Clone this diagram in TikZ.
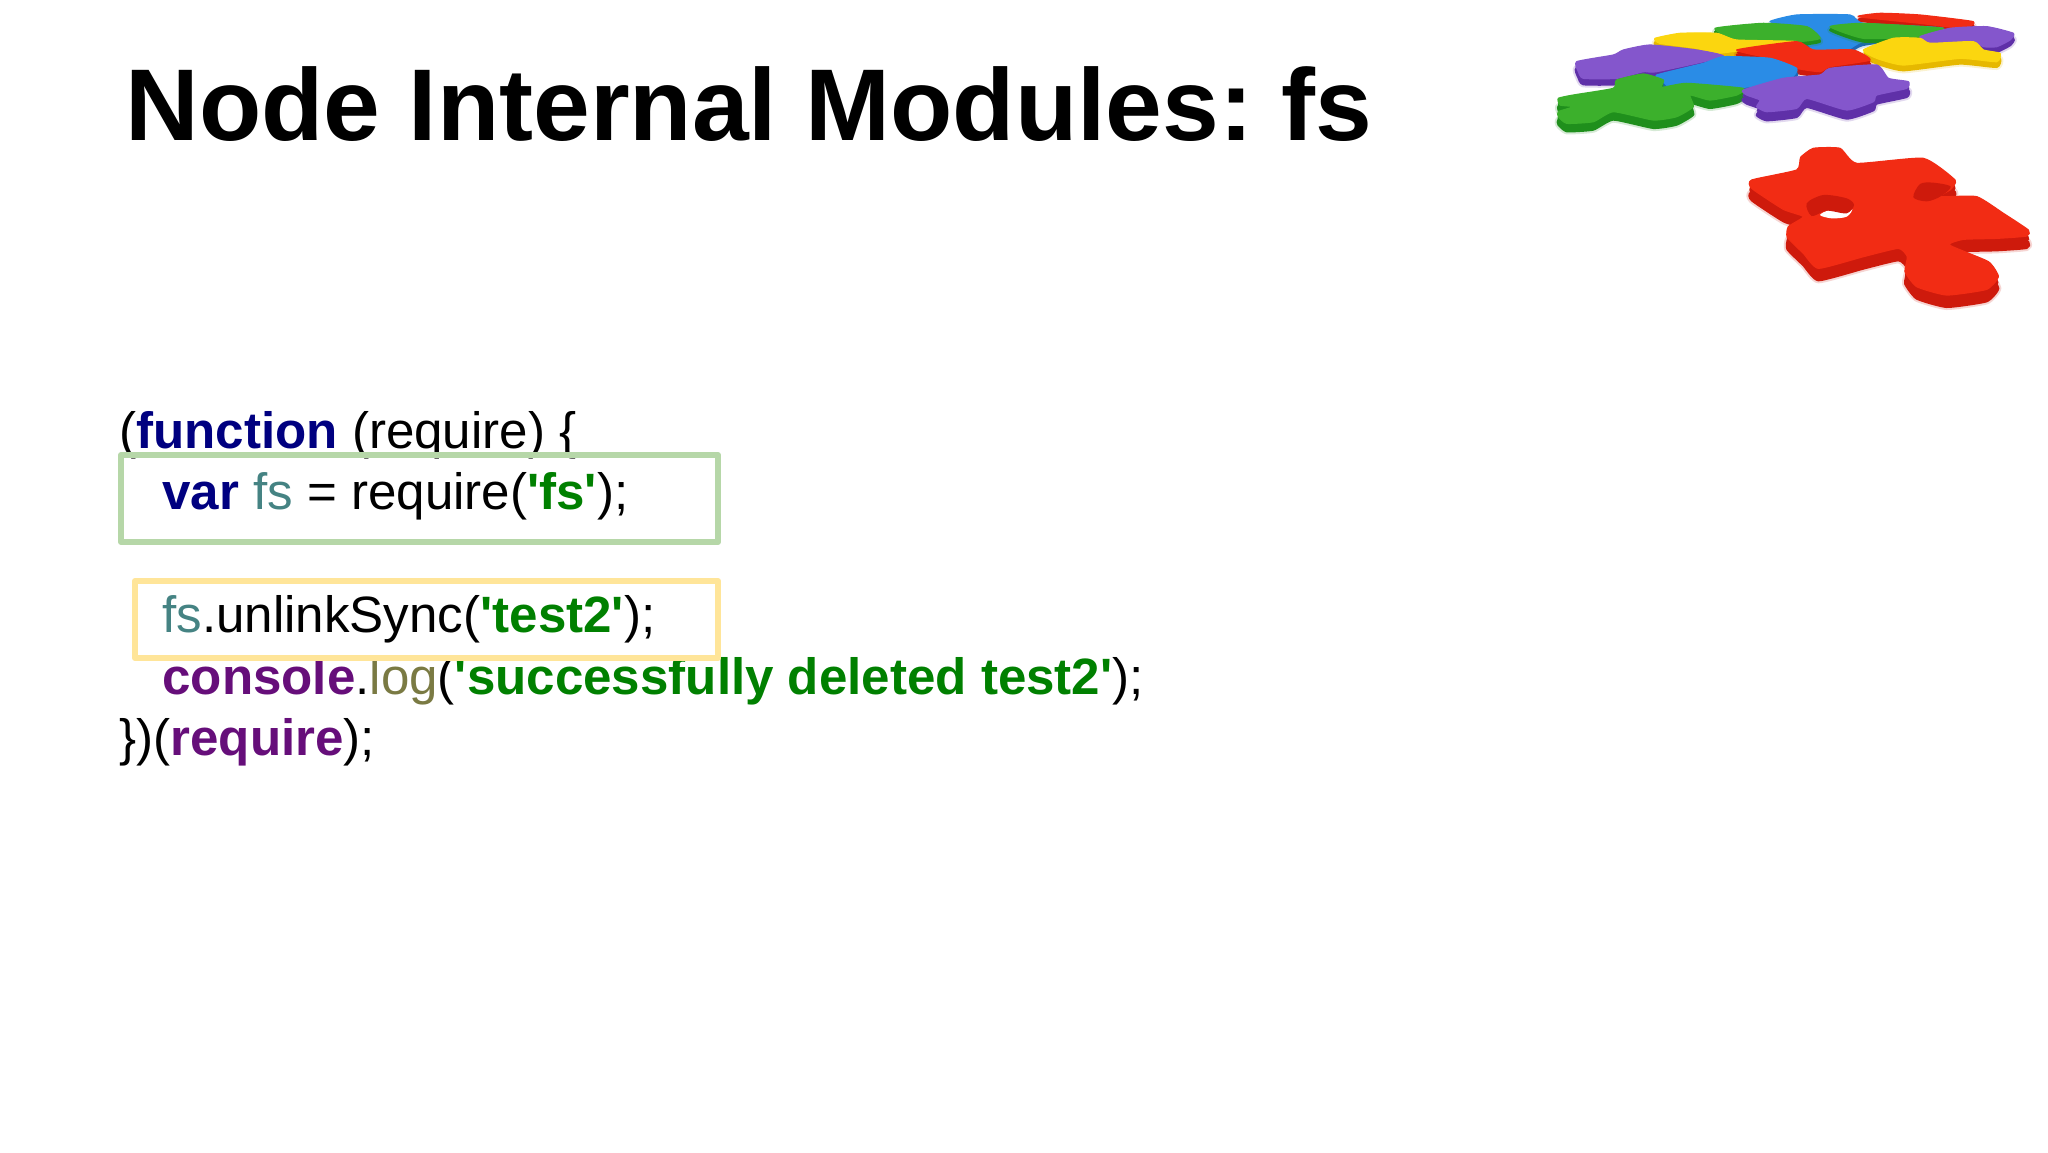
\documentclass[tikz,border=0pt]{standalone}
\usepackage{fontspec}
\setmainfont{Liberation Sans}[Ligatures=TeXOff]
\definecolor{kwnavy}{HTML}{000080}
\definecolor{vteal}{HTML}{458383}
\definecolor{strgreen}{HTML}{008000}
\definecolor{globpurple}{HTML}{660E7A}
\definecolor{fnolive}{HTML}{7A7A43}
\definecolor{boxgreen}{HTML}{B6D7A8}
\definecolor{boxyellow}{HTML}{FFE599}
\definecolor{pzviolet}{HTML}{8456CC}
\definecolor{pzvioletd}{HTML}{5F30A8}
\definecolor{pzblue}{HTML}{2A8CE6}
\definecolor{pzblued}{HTML}{1C68B8}
\definecolor{pzgreen}{HTML}{3CB02C}
\definecolor{pzgreend}{HTML}{1F8F1C}
\definecolor{pzyellow}{HTML}{FBD60F}
\definecolor{pzyellowd}{HTML}{E6B800}
\definecolor{pzred}{HTML}{F22C14}
\definecolor{pzredd}{HTML}{CE1A0C}
\newcommand{\kw}[1]{\textcolor{kwnavy}{\bfseries #1}}
\newcommand{\vr}[1]{\textcolor{vteal}{#1}}
\newcommand{\strg}[1]{\textcolor{strgreen}{\bfseries #1}}
\newcommand{\glob}[1]{\textcolor{globpurple}{\bfseries #1}}
\newcommand{\fnc}[1]{\textcolor{fnolive}{#1}}
\newcommand{\piece}[4][14]{%
  \draw[#2,line width=3pt,opacity=.18,shift={(0,#1)},line join=round] plot[smooth cycle,tension=.3] coordinates {#4};
  \fill[#2,shift={(0,#1/2)}] plot[smooth cycle,tension=.3] coordinates {#4};
  \draw[#2,line width=1pt,fill=#2,shift={(0,#1)},line join=round] plot[smooth cycle,tension=.3] coordinates {#4};
  \draw[#3,line width=.6pt,fill=#3,line join=round] plot[smooth cycle,tension=.3] coordinates {#4};
}
\tikzset{
  title/.style={anchor=base west,inner sep=0pt,font=\fontsize{51}{54}\selectfont\bfseries},
  code/.style={anchor=base west,inner sep=0pt,font=\fontsize{25.55}{27}\selectfont},
  hlbox/.style={line width=3pt,line join=round}
}
\frenchspacing
\begin{document}
\begin{tikzpicture}[x=0.5pt,y=-0.5pt]
\useasboundingbox (0,0) rectangle (2048,1152);
\fill[white] (0,0) rectangle (2048,1152);
\node[title] (heading) at (125,140) {Node Internal Modules: fs};
\node[code] (l1) at (119,448) {(\kw{function} (require) \{};
\node[code] (l2) at (162,509) {\kw{var} \vr{fs} = require(\strg{'fs'});};
\node[code] (l3) at (162,632) {\vr{fs}.unlinkSync(\strg{'test2'});};
\node[code] (l4) at (162,694) {\glob{console}.\fnc{log}(\strg{'successfully deleted test2'});};
\node[code] (l5) at (119,755) {\})(\glob{require});};
\draw[hlbox,boxgreen] (121,455) rectangle (718,542);
\draw[hlbox,boxyellow] (135,581) rectangle (718,658);
\begin{scope}[shift={(1530,0)},x=0.16667pt,y=-0.16667pt]
\piece[12]{pzredd}{pzred}{(985,50)(1050,40)(1170,45)(1330,65)(1300,85)(1170,70)}
\piece[10]{pzblued}{pzblue}{(720,65)(800,45)(960,45)(1000,70)(1240,85)(1000,125)(950,150)(850,150)(830,120)(870,110)(830,80)}
\piece[10]{pzgreend}{pzgreen}{(555,85)(700,70)(830,80)(870,115)(800,125)(620,120)}
\piece[10]{pzgreend}{pzgreen}{(900,80)(1000,70)(1240,85)(1170,110)(1000,115)}
\piece[16]{pzvioletd}{pzviolet}{(1170,110)(1260,85)(1370,80)(1450,100)(1440,120)(1400,140)(1360,140)(1330,125)(1200,130)}
\piece[16]{pzyellowd}{pzyellow}{(1000,150)(1090,115)(1170,115)(1200,130)(1330,125)(1360,150)(1410,160)(1400,185)(1290,175)(1120,195)(1040,175)}
\piece[12]{pzyellowd}{pzyellow}{(375,115)(450,100)(560,100)(620,120)(800,125)(640,150)(560,160)(500,145)(390,130)}
\piece[14]{pzredd}{pzred}{(620,150)(800,125)(850,150)(970,150)(1020,180)(900,200)(870,215)(800,205)(720,175)}
\piece[18]{pzvioletd}{pzviolet}{(140,185)(250,165)(280,150)(360,135)(500,150)(580,170)(380,215)(340,215)(260,235)(160,235)(145,215)}
\piece[14]{pzblued}{pzblue}{(380,225)(520,190)(580,170)(720,175)(800,205)(780,235)(640,262)(480,250)(420,262)(395,240)}
\piece[24]{pzgreend}{pzgreen}{(85,295)(130,285)(250,265)(260,240)(340,222)(400,240)(395,262)(470,250)(640,265)(620,285)(540,300)(480,285)(490,320)(440,350)(370,360)(250,335)(190,365)(110,370)(85,350)(85,335)(130,320)(90,315)}
\piece[26]{pzvioletd}{pzviolet}{(640,270)(760,235)(870,225)(900,205)(1040,195)(1075,235)(1135,245)(1130,265)(1040,285)(1030,305)(950,330)(830,295)(800,325)(710,335)(680,320)(690,300)(650,285)}
\piece[36]{pzredd}{pzred}{(665,540)(800,510)(812,472)(850,445)(930,445)(980,490)(1180,475)(1275,540)(1262,568)(1230,590)(1340,590)(1420,640)(1495,690)(1490,708)(1400,715)(1300,718)(1258,735)(1375,785)(1405,830)(1370,868)(1250,885)(1160,860)(1125,815)(1132,770)(1105,745)(1000,770)(865,805)(820,760)(772,712)(775,680)(820,650)(760,628)(665,565)}
\fill[white] plot[smooth cycle,tension=.5] coordinates {(870,645)(905,655)(950,650)(965,625)(900,630)};
\fill[pzredd] plot[smooth cycle,tension=.5] coordinates {(830,610)(880,585)(950,595)(972,615)(950,640)(890,632)(845,648)};
\fill[pzredd] plot[smooth cycle,tension=.5] coordinates {(1150,592)(1170,552)(1210,548)(1262,560)(1230,590)(1190,604)};
\end{scope}
\end{tikzpicture}
\end{document}
